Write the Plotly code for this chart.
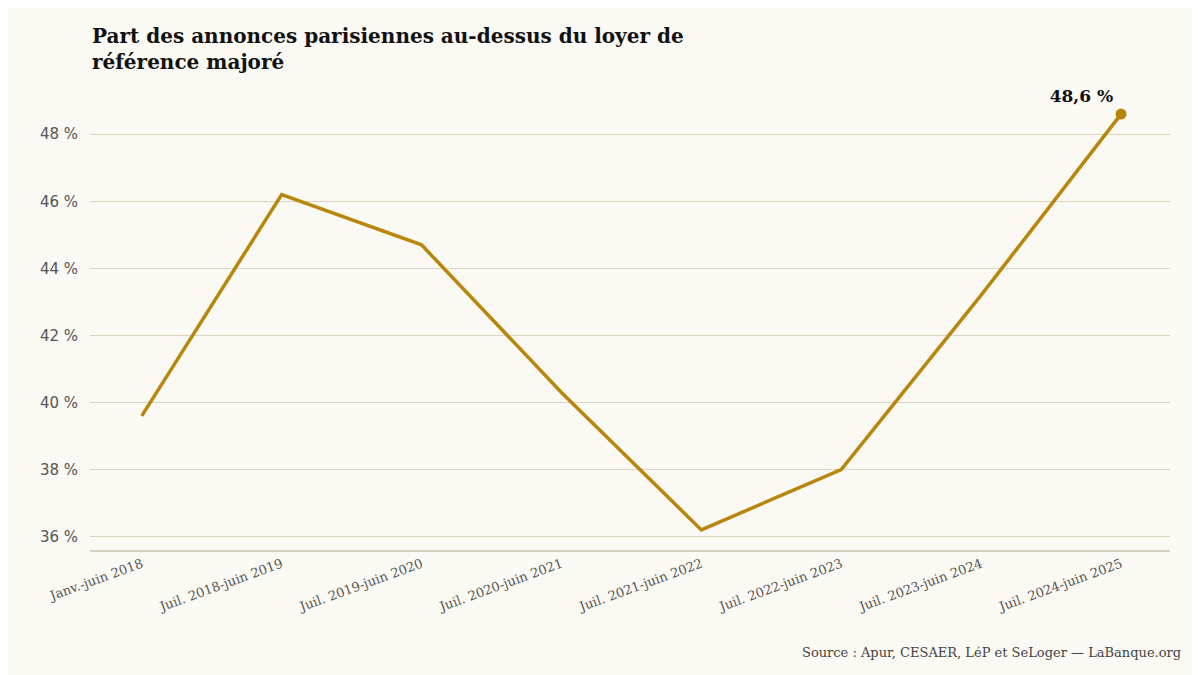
import plotly.graph_objects as go

periods = ["Janv.-juin 2018", "Juil. 2018-juin 2019", "Juil. 2019-juin 2020",
           "Juil. 2020-juin 2021", "Juil. 2021-juin 2022", "Juil. 2022-juin 2023",
           "Juil. 2023-juin 2024", "Juil. 2024-juin 2025"]
share = [39.6, 46.2, 44.7, 40.3, 36.2, 38.0, 43.2, 48.6]
y_ticks = [36, 38, 40, 42, 44, 46, 48]

gold = "#b8860b"
bg = "#fbf9f3"

fig = go.Figure()
fig.add_trace(go.Scatter(x=list(range(len(periods))), y=share, mode="lines",
                         line=dict(color=gold, width=3.5), hoverinfo="skip"))
fig.add_trace(go.Scatter(x=[len(periods) - 1], y=[share[-1]], mode="markers+text",
                         marker=dict(color=gold, size=11), cliponaxis=False,
                         text=["<b>48,6 %</b>"], textposition="top left",
                         textfont=dict(family="DejaVu Serif", size=17, color="#111")))

fig.update_layout(
    width=1200, height=675, showlegend=False,
    paper_bgcolor=bg, plot_bgcolor=bg,
    margin=dict(l=82, r=38, t=86, b=133),
    title=dict(text="<b>Part des annonces parisiennes au-dessus du loyer de<br>référence majoré</b>",
               x=0.07, xanchor="left", y=0.948, yanchor="top",
               font=dict(family="DejaVu Serif", size=20, color="#111")),
    xaxis=dict(tickmode="array", tickvals=list(range(len(periods))), ticktext=periods,
               range=[-0.37, 7.35], tickangle=-20, showgrid=False, zeroline=False,
               showline=True, linecolor="#d8cfbf", linewidth=1.5,
               tickfont=dict(family="DejaVu Serif", size=13, color="#555")),
    yaxis=dict(tickvals=y_ticks, ticktext=[f"{v} %" for v in y_ticks],
               range=[35.6, 49.2], gridcolor="#ddd3c3", gridwidth=1, zeroline=False,
               ticks="outside", ticklen=8, tickcolor=bg,
               tickfont=dict(family="DejaVu Sans", size=15, color="#555")),
    annotations=[dict(text="Source : Apur, CESAER, LéP et SeLoger — LaBanque.org",
                      xref="paper", yref="paper", x=1.012, y=-0.245, xanchor="right",
                      showarrow=False,
                      font=dict(family="DejaVu Serif", size=13, color="#444"))],
)
fig.write_html("out.html")
